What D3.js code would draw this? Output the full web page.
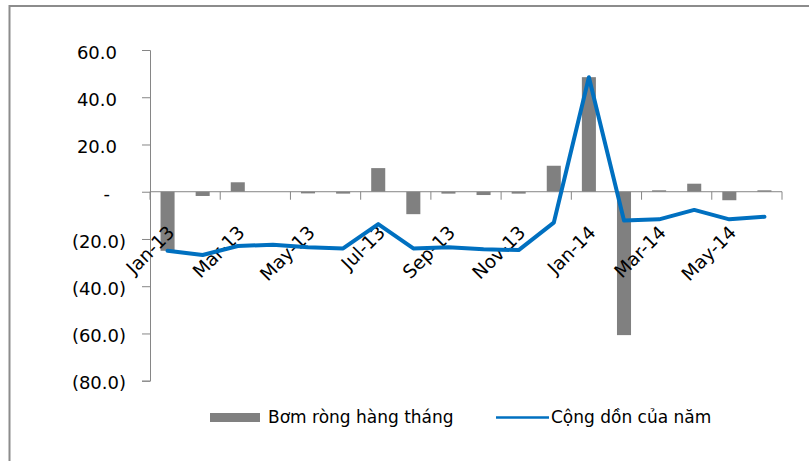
<!DOCTYPE html>
<html>
<head>
<meta charset="utf-8">
<script src="https://cdn.jsdelivr.net/npm/d3@7/dist/d3.min.js"></script>
<style>
  html, body { margin: 0; padding: 0; background: #fff; }
  svg { display: block; }
  text { font-family: "DejaVu Sans", Verdana, sans-serif; fill: #000; }
</style>
</head>
<body>
<script>
// Monthly net injection (bars) and year-to-date cumulative (line), in trillion VND
const months = ["Jan-13","Feb-13","Mar-13","Apr-13","May-13","Jun-13","Jul-13","Aug-13","Sep-13",
                "Oct-13","Nov-13","Dec-13","Jan-14","Feb-14","Mar-14","Apr-14","May-14","Jun-14"];
const monthlyNet = [-25.0, -1.8, 4.0, 0.0, -0.7, -0.8, 10.0, -9.5, -0.8,
                    -1.4, -0.8, 11.0, 48.5, -60.7, 0.6, 3.4, -3.6, 0.6];
const cumulative = [-25.0, -26.8, -23.0, -22.4, -23.5, -24.0, -13.7, -24.0, -23.5,
                    -24.4, -24.7, -13.1, 48.5, -12.2, -11.7, -7.7, -11.7, -10.6];
const yTicks = [-80, -60, -40, -20, 0, 20, 40, 60];
const yTickLabels = ["(80.0)", "(60.0)", "(40.0)", "(20.0)", "-", "20.0", "40.0", "60.0"];
const seriesNames = ["Bơm ròng hàng tháng", "Cộng dồn của năm"];

const W = 809, H = 461;
const plot = { left: 150, right: 782, top: 50, bottom: 380.7 };
const barColor = "#808080", lineColor = "#0070C0", axisColor = "#868686";

const svg = d3.select("body").append("svg").attr("width", W).attr("height", H);

// outer chart frame (top and left edges visible)
svg.append("path")
  .attr("d", `M9.5,${H} L9.5,6 L${W},6`)
  .attr("fill", "none").attr("stroke", "#8c8c8c").attr("stroke-width", 2);

const x = d3.scaleBand().domain(months).range([plot.left, plot.right])
  .paddingInner(0.6).paddingOuter(0.3);
const y = d3.scaleLinear().domain([-80, 60]).range([plot.bottom, plot.top]);

// y axis
const yAxis = svg.append("g").attr("transform", `translate(${plot.left},0)`)
  .call(d3.axisLeft(y).tickValues(yTicks).tickSize(8).tickPadding(0)
        .tickFormat((d, i) => yTickLabels[i]));
yAxis.select(".domain").attr("stroke", axisColor);
yAxis.selectAll(".tick line").attr("stroke", axisColor);
yAxis.selectAll(".tick text")
  .attr("font-size", 18)
  .attr("font-family", "DejaVu Sans")
  .attr("dy", "0.45em")
  .attr("x", d => d < 0 ? -24 : (d === 0 ? -40 : -33));

// bars
svg.append("g").selectAll("rect").data(months).join("rect")
  .attr("x", d => x(d))
  .attr("width", x.bandwidth())
  .attr("y", (d, i) => y(Math.max(0, monthlyNet[i])))
  .attr("height", (d, i) => Math.abs(y(monthlyNet[i]) - y(0)))
  .attr("fill", barColor);

// category axis along zero
const y0 = y(0);
svg.append("line").attr("x1", plot.left).attr("x2", plot.right)
  .attr("y1", y0).attr("y2", y0).attr("stroke", axisColor);
const step = x.step();
const gap = (step - x.bandwidth()) / 2;
const tickCats = months.filter((d, i) => i % 2 === 0);
svg.append("g").selectAll("line").data(tickCats.concat(["end"])).join("line")
  .attr("x1", d => d === "end" ? plot.right : x(d) - gap)
  .attr("x2", d => d === "end" ? plot.right : x(d) - gap)
  .attr("y1", y0).attr("y2", y0 + 8)
  .attr("stroke", axisColor);

// rotated month labels, every second month
svg.append("g").selectAll("text").data(tickCats).join("text")
  .attr("transform", d => `translate(${x(d) + x.bandwidth() / 2 + 8},${y0 + 42}) rotate(-45)`)
  .attr("text-anchor", "end")
  .attr("font-size", 18.5)
  .text(d => d);

// cumulative line
const line = d3.line()
  .x((d, i) => x(months[i]) + x.bandwidth() / 2)
  .y(d => y(d));
svg.append("path").datum(cumulative)
  .attr("d", line)
  .attr("fill", "none")
  .attr("stroke", lineColor)
  .attr("stroke-width", 4)
  .attr("stroke-linejoin", "round")
  .attr("stroke-linecap", "round");

// legend
const lg = svg.append("g");
lg.append("rect").attr("x", 210).attr("y", 413).attr("width", 50).attr("height", 9).attr("fill", barColor);
lg.append("text").attr("x", 268).attr("y", 423).attr("font-size", 17).text(seriesNames[0]);
lg.append("line").attr("x1", 496).attr("x2", 549).attr("y1", 417.5).attr("y2", 417.5)
  .attr("stroke", lineColor).attr("stroke-width", 2.5);
lg.append("text").attr("x", 551).attr("y", 423).attr("font-size", 17).text(seriesNames[1]);
</script>
</body>
</html>
